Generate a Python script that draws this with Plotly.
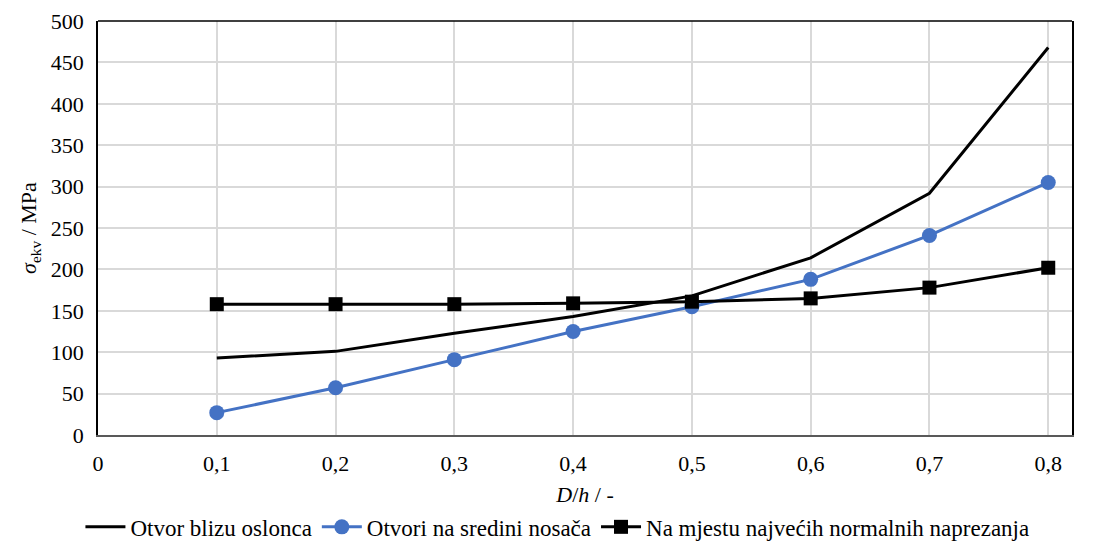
import plotly.graph_objects as go

# D/h ratios
dh = [0.1, 0.2, 0.3, 0.4, 0.5, 0.6, 0.7, 0.8]

# equivalent stress, MPa
otvor_blizu_oslonca = [93, 101, 123, 143, 168, 214, 292, 468]
otvori_na_sredini = [27, 57, 91, 125, 155, 188, 241, 305]
najveca_normalna = [158, 158, 158, 159, 161, 165, 178, 202]

x_ticks = [0, 0.1, 0.2, 0.3, 0.4, 0.5, 0.6, 0.7, 0.8]
x_ticktext = ["0", "0,1", "0,2", "0,3", "0,4", "0,5", "0,6", "0,7", "0,8"]
y_ticks = [0, 50, 100, 150, 200, 250, 300, 350, 400, 450, 500]

font_family = "Times New Roman, Liberation Serif, serif"
fs = 22

fig = go.Figure()

fig.add_trace(go.Scatter(
    x=dh, y=otvor_blizu_oslonca,
    mode="lines",
    name="Otvor blizu oslonca",
    line=dict(color="black", width=3),
))

fig.add_trace(go.Scatter(
    x=dh, y=otvori_na_sredini,
    mode="lines+markers",
    name="Otvori na sredini nosača",
    line=dict(color="#4472c4", width=3),
    marker=dict(symbol="circle", size=15, color="#4472c4"),
))

fig.add_trace(go.Scatter(
    x=dh, y=najveca_normalna,
    mode="lines+markers",
    name="Na mjestu najvećih normalnih naprezanja",
    line=dict(color="black", width=3),
    marker=dict(symbol="square", size=14, color="black"),
))

fig.update_layout(
    width=1093,
    height=545,
    plot_bgcolor="white",
    paper_bgcolor="white",
    font=dict(family=font_family, size=fs, color="black"),
    margin=dict(l=98, r=21, t=21, b=110, autoexpand=False),
    showlegend=True,
    legend=dict(
        orientation="h",
        xref="container",
        x=0.51, xanchor="center",
        y=-0.17, yanchor="top",
        font=dict(family=font_family, size=23),
        itemwidth=40,
        tracegroupgap=0,
    ),
    shapes=[
        dict(type="line", xref="paper", yref="paper", x0=0, x1=1, y0=1, y1=1,
             line=dict(color="black", width=1.5)),
    ],
)

fig.update_xaxes(
    range=[0, 0.82],
    tickvals=x_ticks,
    ticktext=x_ticktext,
    tickfont=dict(family=font_family, size=fs),
    showgrid=True,
    gridcolor="#d9d9d9",
    gridwidth=2,
    showline=True,
    linecolor="#595959",
    linewidth=2,
    zeroline=False,
    ticks="",
    automargin=False,
    ticklabelstandoff=8,
    title=dict(text="<i>D</i>/<i>h</i> / -", font=dict(family=font_family, size=fs), standoff=11),
)

fig.update_yaxes(
    range=[0, 500],
    tickvals=y_ticks,
    tickfont=dict(family=font_family, size=fs),
    showgrid=True,
    gridcolor="#d9d9d9",
    gridwidth=2,
    showline=True,
    mirror=True,
    linecolor="black",
    linewidth=1.5,
    zeroline=False,
    ticks="",
    automargin=False,
    ticklabelstandoff=8,
    title=dict(text="<i>σ</i><sub>ekv</sub> / MPa", font=dict(family=font_family, size=fs), standoff=8),
)

fig.write_html("out.html", config={"displayModeBar": False},
               post_script="document.body.style.margin='0';")
